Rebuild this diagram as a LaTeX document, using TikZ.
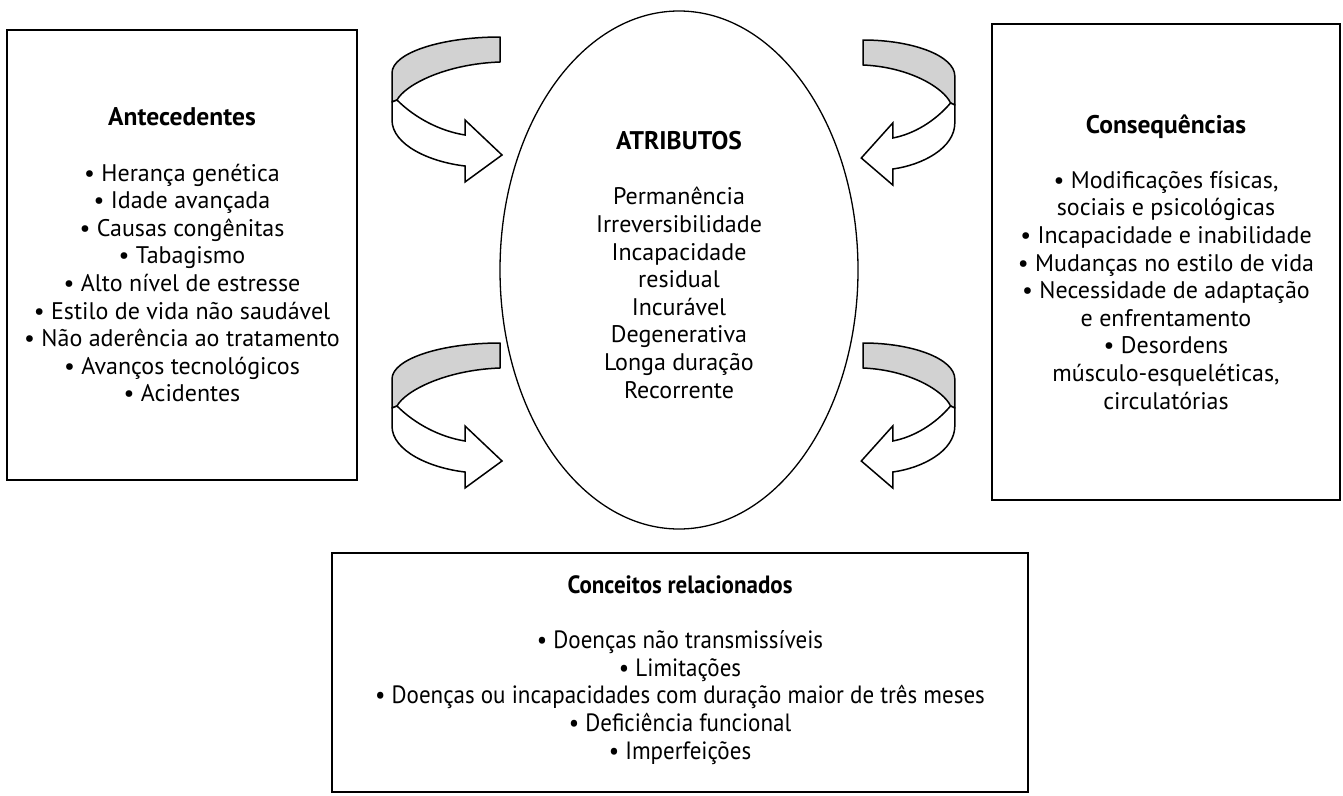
\documentclass[tikz,border=0pt]{standalone}
\usepackage{fontspec}
\setmainfont{PT Sans}
\newfontfamily\condfont[FakeStretch=0.92]{PT Sans}
\usetikzlibrary{shapes.geometric}
\newcommand{\boxhead}[1]{{\fontsize{25.5}{27.6}\selectfont\bfseries #1}}
\tikzset{
  x=1pt, y=-1pt, % pixel-like units, y grows downwards
  frame/.style={draw, line width=1.8pt}, % boxes
  txt/.style={align=center, font=\fontsize{24}{27.6}\selectfont},
  turn/.pic={ % curved ribbon arrow, origin at the end of the grey band
    \fill[gray!35] (0,0) .. controls (-59,0) and (-108,16) .. (-108,36)
      -- (-108,65) -- (-103,63) .. controls (-95,48) and (-55,27) .. (0,25) -- cycle;
    \draw[line width=1.5pt, line join=round] (0,0) .. controls (-59,0) and (-108,16) .. (-108,36)
      -- (-108,65) -- (-103,63) .. controls (-95,48) and (-55,27) .. (0,25) -- cycle;
    \draw[line width=1.5pt, line join=miter, fill=white] (-103,63) .. controls (-85,81) and (-60,94) .. (-35,98)
      -- (-35,83) -- (2,118) -- (-35,145) -- (-35,129)
      .. controls (-70,125) and (-108,108) .. (-108,83) -- (-108,65) -- cycle;
  }
}
\begin{document}
\begin{tikzpicture}
\useasboundingbox (0,0) rectangle (1343,795);

% boxes
\node[frame, minimum width=350pt, minimum height=450pt] (ante) at (182,255) {};
\node[draw, line width=1.3pt, ellipse, minimum width=358pt, minimum height=518pt] (atrib) at (679,270) {};
\node[frame, minimum width=348pt, minimum height=476pt] (conseq) at (1166,262) {};
\node[frame, minimum width=696pt, minimum height=239pt] (conc) at (680,672.5) {};

% texts
\node[txt] (ante text) at (ante.center) {\boxhead{Antecedentes}\\[27.6pt]
  • Herança genética\\ • Idade avançada\\ • Causas congênitas\\ • Tabagismo\\
  • Alto nível de estresse\\ • Estilo de vida não saudável\\
  • Não aderência ao tratamento\\ • Avanços tecnológicos\\ • Acidentes};
\node[txt] (atrib text) at ([yshift=5pt]atrib.center) {\boxhead{ATRIBUTOS}\\[27.6pt]
  Permanência\\ Irreversibilidade\\ Incapacidade\\ residual\\ Incurável\\
  Degenerativa\\ Longa duração\\ Recorrente};
\node[txt] (conseq text) at (conseq.center) {\boxhead{Consequências}\\[27.6pt]
  • Modificações físicas,\\ sociais e psicológicas\\ • Incapacidade e inabilidade\\
  • Mudanças no estilo de vida\\ • Necessidade de adaptação\\ e enfrentamento\\
  • Desordens\\ músculo-esqueléticas,\\ circulatórias};
\node[txt, font=\condfont\fontsize{25}{27.6}\selectfont] (conc text) at ([yshift=2.5pt]conc.center)
  {\textbf{Conceitos relacionados}\\[27.6pt]
  • Doenças não transmissíveis\\ • Limitações\\
  • Doenças ou incapacidades com duração maior de três meses\\
  • Deficiência funcional\\ • Imperfeições};

% arrows towards the attributes
\pic at (500,37) {turn};
\pic at (500,343) {turn};
\pic[xscale=-0.85] at (863,40) {turn};
\pic[xscale=-0.85] at (863,343) {turn};
\end{tikzpicture}
\end{document}
